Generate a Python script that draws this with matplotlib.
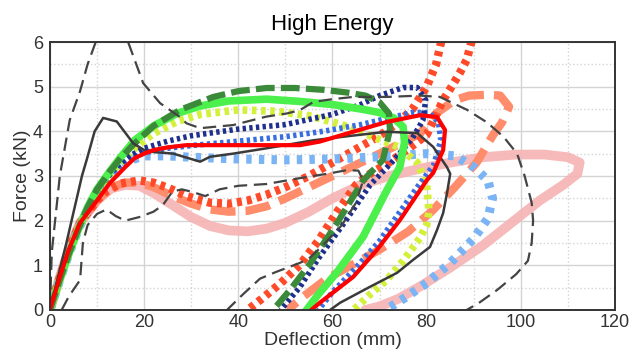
import matplotlib.pyplot as plt
from matplotlib.ticker import MultipleLocator

plt.rcParams['font.family'] = ['Liberation Sans', 'DejaVu Sans']

# Kurven (Auslenkung in mm, Kraft in kN)
pink_x = [0, 2, 4, 6.4, 10, 13, 16, 19, 22, 26, 30, 34, 38, 42, 46, 50, 55, 60, 66, 72, 78, 85, 92, 99, 105, 110, 112.5, 112, 109, 104, 98, 92, 85, 79, 74, 70, 67]
pink_y = [0, 0.7, 1.35, 1.95, 2.45, 2.72, 2.8, 2.78, 2.62, 2.35, 2.08, 1.88, 1.78, 1.76, 1.82, 1.95, 2.2, 2.5, 2.8, 3.0, 3.15, 3.3, 3.42, 3.48, 3.48, 3.42, 3.3, 3.05, 2.8, 2.45, 1.95, 1.45, 0.95, 0.55, 0.25, 0.08, 0]

salmon_x = [0, 2, 4, 6.4, 10, 13, 16, 19, 22, 26, 30, 34, 38, 42, 46, 50, 55, 60, 66, 72, 78.6, 82, 86, 89, 93, 95.6, 97.5, 96, 94, 90.6, 86, 81, 76, 70, 64, 58.8, 53.7, 50.5]
salmon_y = [0, 0.7, 1.35, 1.95, 2.45, 2.75, 2.85, 2.85, 2.75, 2.55, 2.38, 2.25, 2.2, 2.22, 2.32, 2.5, 2.75, 3.0, 3.3, 3.6, 3.95, 4.4, 4.7, 4.8, 4.82, 4.8, 4.55, 4.2, 3.9, 3.3, 2.75, 2.2, 1.75, 1.35, 1.0, 0.7, 0.29, 0]

orange_x = [0, 2, 4, 6.4, 10, 12, 15, 19, 22, 25, 29, 34, 38, 42, 46, 50, 55, 60, 65, 70, 74, 77, 80, 82, 83.5, 86, 88, 89.5, 88.5, 87, 85, 83.5, 81.5, 80, 76, 72, 68, 65, 61, 57, 53, 49, 45, 42]
orange_y = [0, 0.7, 1.35, 1.95, 2.45, 2.65, 2.83, 2.9, 2.85, 2.74, 2.55, 2.4, 2.38, 2.45, 2.58, 2.75, 3.0, 3.3, 3.6, 3.9, 4.2, 4.5, 5.0, 5.5, 6.2, 6.5, 6.4, 6.0, 5.6, 5.3, 4.95, 4.7, 4.25, 3.92, 3.6, 3.3, 3.05, 2.8, 2.2, 1.55, 1.0, 0.6, 0.25, 0]

ltblue_x = [0, 2, 4, 6, 8, 10, 12, 14, 17, 20, 25, 30, 40, 50, 60, 70, 80, 86, 90, 93, 94, 93, 90, 85, 80, 75.5, 72.5, 71]
ltblue_y = [0, 0.65, 1.25, 1.8, 2.25, 2.65, 2.95, 3.15, 3.35, 3.45, 3.45, 3.42, 3.38, 3.36, 3.38, 3.43, 3.5, 3.45, 3.2, 2.9, 2.5, 2.05, 1.6, 1.05, 0.6, 0.28, 0.08, 0]

yellow_x = [0, 2, 4, 6, 8, 10, 12, 14, 18, 22, 27, 32, 40, 48, 55, 62, 68, 74, 78, 80, 80.5, 80, 78.5, 75, 71.5, 68, 65.5, 64.5]
yellow_y = [0, 0.65, 1.25, 1.8, 2.25, 2.65, 2.95, 3.2, 3.62, 3.95, 4.22, 4.38, 4.48, 4.45, 4.35, 4.15, 3.9, 3.65, 3.3, 2.8, 2.2, 1.9, 1.6, 1.1, 0.67, 0.35, 0.1, 0]

blue_x = [0, 2, 4, 6, 8, 10, 12, 14, 17, 20, 25, 30, 40, 50, 58, 66, 72, 77, 80.5, 82.5, 83, 81.5, 78, 74, 70, 65, 60, 57]
blue_y = [0, 0.65, 1.25, 1.8, 2.25, 2.65, 2.95, 3.15, 3.38, 3.52, 3.62, 3.68, 3.78, 3.88, 4.0, 4.15, 4.3, 4.42, 4.42, 4.2, 3.8, 3.25, 2.75, 2.15, 1.55, 0.95, 0.4, 0]

navy_x = [0, 2, 4, 6, 8, 10, 12, 14, 17, 20, 25, 30, 40, 50, 60, 66, 70, 75, 78, 79.8, 79.2, 77, 73, 68, 62.5, 57, 53, 49]
navy_y = [0, 0.65, 1.25, 1.8, 2.25, 2.65, 2.95, 3.2, 3.45, 3.62, 3.78, 3.9, 4.05, 4.15, 4.38, 4.6, 4.8, 4.98, 4.98, 4.7, 4.25, 3.85, 3.35, 2.8, 1.95, 1.15, 0.5, 0]

green_x = [0, 2, 4, 6, 8, 10, 12.7, 15, 18, 22, 27, 32, 38, 46, 53, 60, 66, 70, 73, 75, 75.3, 74.3, 71.6, 66.5, 61, 57, 54.5]
green_y = [0, 0.65, 1.25, 1.8, 2.3, 2.7, 3.1, 3.42, 3.8, 4.12, 4.4, 4.57, 4.68, 4.72, 4.67, 4.6, 4.5, 4.42, 4.3, 4.1, 3.75, 3.2, 2.69, 1.64, 0.85, 0.35, 0]

dkgreen_x = [0, 2, 4, 6, 8, 10, 12.7, 15, 17.7, 22, 27.6, 34.7, 40, 46, 52, 58, 63, 67, 70, 72, 72.2, 70.7, 66.5, 61, 55, 51, 47.4]
dkgreen_y = [0, 0.65, 1.25, 1.8, 2.3, 2.7, 3.1, 3.4, 3.7, 4.12, 4.48, 4.77, 4.9, 4.97, 4.97, 4.93, 4.87, 4.8, 4.65, 4.4, 4.03, 3.36, 2.9, 1.95, 1.0, 0.45, 0]

dash_lo_x = [2.5, 4, 6.4, 7, 8, 10, 12, 14, 16, 19, 22, 24, 26, 28, 30, 33, 36, 40, 46, 53, 59.5, 63, 65.5, 66.5, 65, 62, 58, 55, 53, 48, 44.6, 41, 37.6]
dash_lo_y = [0, 0.3, 0.67, 1.5, 1.9, 2.15, 2.25, 2.1, 2.0, 2.08, 2.2, 2.35, 2.65, 2.7, 2.65, 2.55, 2.7, 2.78, 2.82, 2.95, 3.06, 3.13, 3.12, 2.9, 2.4, 1.9, 1.45, 1.15, 1.05, 0.85, 0.7, 0.35, 0]

dash_hi_x = [0, 0.4, 2.1, 4.2, 6.4, 8, 9.9, 11, 13, 15, 16.6, 19.8, 23.4, 27.6, 29, 31.9, 38.9, 46, 50.3, 53, 56, 60, 64.4, 71.5, 78.6, 82.8, 88.6, 92.8, 96.3, 99.2, 100.8, 102.3, 102.6, 102.3, 101.5, 99, 95, 91, 88.5]
dash_hi_y = [0, 1.3, 3.0, 4.25, 4.9, 5.5, 6.05, 6.5, 6.6, 6.4, 6.0, 5.08, 4.63, 4.32, 4.18, 4.07, 4.14, 4.33, 4.4, 4.47, 4.66, 4.72, 4.77, 4.77, 4.8, 4.77, 4.48, 4.2, 3.88, 3.5, 3.0, 2.4, 2.0, 1.5, 1.1, 0.8, 0.45, 0.15, 0]

black_x = [0, 3.5, 6.8, 7.8, 9.5, 11.3, 14.2, 17.7, 20.5, 26.2, 31.9, 34, 38.9, 46, 56, 64, 71.5, 78, 81.4, 84.3, 85, 84.3, 83.5, 82.2, 80.7, 77.1, 73.7, 68, 61.6, 59.5]
black_y = [0, 1.5, 3.0, 3.36, 4.0, 4.3, 4.22, 3.73, 3.55, 3.5, 3.32, 3.43, 3.5, 3.62, 3.8, 3.9, 3.99, 3.96, 3.65, 3.2, 3.05, 2.6, 2.17, 1.79, 1.41, 1.12, 0.83, 0.52, 0.16, 0]

red_x = [0, 2, 4, 6.4, 10, 12.7, 16, 18, 20, 22, 25, 29, 38.9, 53.1, 57.3, 64.4, 71.5, 78.6, 82.2, 83.9, 83.5, 81.4, 80, 74.3, 69.4, 64.4, 57.3, 55.5]
red_y = [0, 0.7, 1.35, 1.95, 2.45, 2.84, 3.2, 3.4, 3.5, 3.58, 3.64, 3.69, 3.69, 3.69, 3.77, 3.99, 4.21, 4.36, 4.32, 4.03, 3.58, 3.07, 2.9, 2.01, 1.34, 0.74, 0.16, 0]

fig, ax = plt.subplots(figsize=(6.4, 3.53), dpi=100)
fig.subplots_adjust(left=0.078, right=0.961, bottom=0.122, top=0.881)

ax.plot(pink_x, pink_y, color='#f7b3b3', lw=7, alpha=0.9, solid_capstyle='round')
ax.plot(salmon_x, salmon_y, color='#ff8c6a', lw=6, ls=(0, (3, 1.2)))
ax.plot(orange_x, orange_y, color='#ff4a2a', lw=6, ls=(0, (0.6, 0.6)))
ax.plot(ltblue_x, ltblue_y, color='#7ab4f5', lw=6.5, ls=(0, (0.6, 0.8)))
ax.plot(yellow_x, yellow_y, color='#d4f03a', lw=5.5, ls=(0, (0.6, 0.6)))
ax.plot(blue_x, blue_y, color='#3a6ee0', lw=4, ls=(0, (0.6, 0.6)))
ax.plot(navy_x, navy_y, color='#1e2f8c', lw=4, ls=(0, (0.6, 0.6)))
ax.plot(green_x, green_y, color='#4cf04c', lw=5.5)
ax.plot(dkgreen_x, dkgreen_y, color='#3a8a3a', lw=4.5, ls=(0, (3, 1)))
ax.plot(dash_lo_x, dash_lo_y, color='#444444', lw=1.6, ls=(0, (6, 3)))
ax.plot(dash_hi_x, dash_hi_y, color='#444444', lw=1.6, ls=(0, (6, 3)))
ax.plot(black_x, black_y, color='#3a3a3a', lw=1.8)
ax.plot(red_x, red_y, color='#ff0000', lw=3)

ax.set_xlim(0, 120)
ax.set_ylim(0, 6)
ax.xaxis.set_major_locator(MultipleLocator(20))
ax.xaxis.set_minor_locator(MultipleLocator(10))
ax.yaxis.set_major_locator(MultipleLocator(1))
ax.yaxis.set_minor_locator(MultipleLocator(0.5))
ax.grid(which='major', color='#d4d4d4', lw=1)
ax.grid(which='minor', color='#d4d4d4', lw=1, ls=':')
ax.set_axisbelow(True)
ax.tick_params(which='both', length=0, labelsize=13, colors='#333333')
ax.tick_params(axis='x', pad=3)
ax.tick_params(axis='y', pad=5)
for s in ax.spines.values():
    s.set_color('#333333')
    s.set_linewidth(1.4)

ax.set_title('High Energy', fontsize=16, pad=9)
ax.set_xlabel('Deflection (mm)', fontsize=14, color='#333333', labelpad=1)
ax.set_ylabel('Force (kN)', fontsize=14, color='#333333', labelpad=1)

plt.savefig('out.png', dpi=100)
